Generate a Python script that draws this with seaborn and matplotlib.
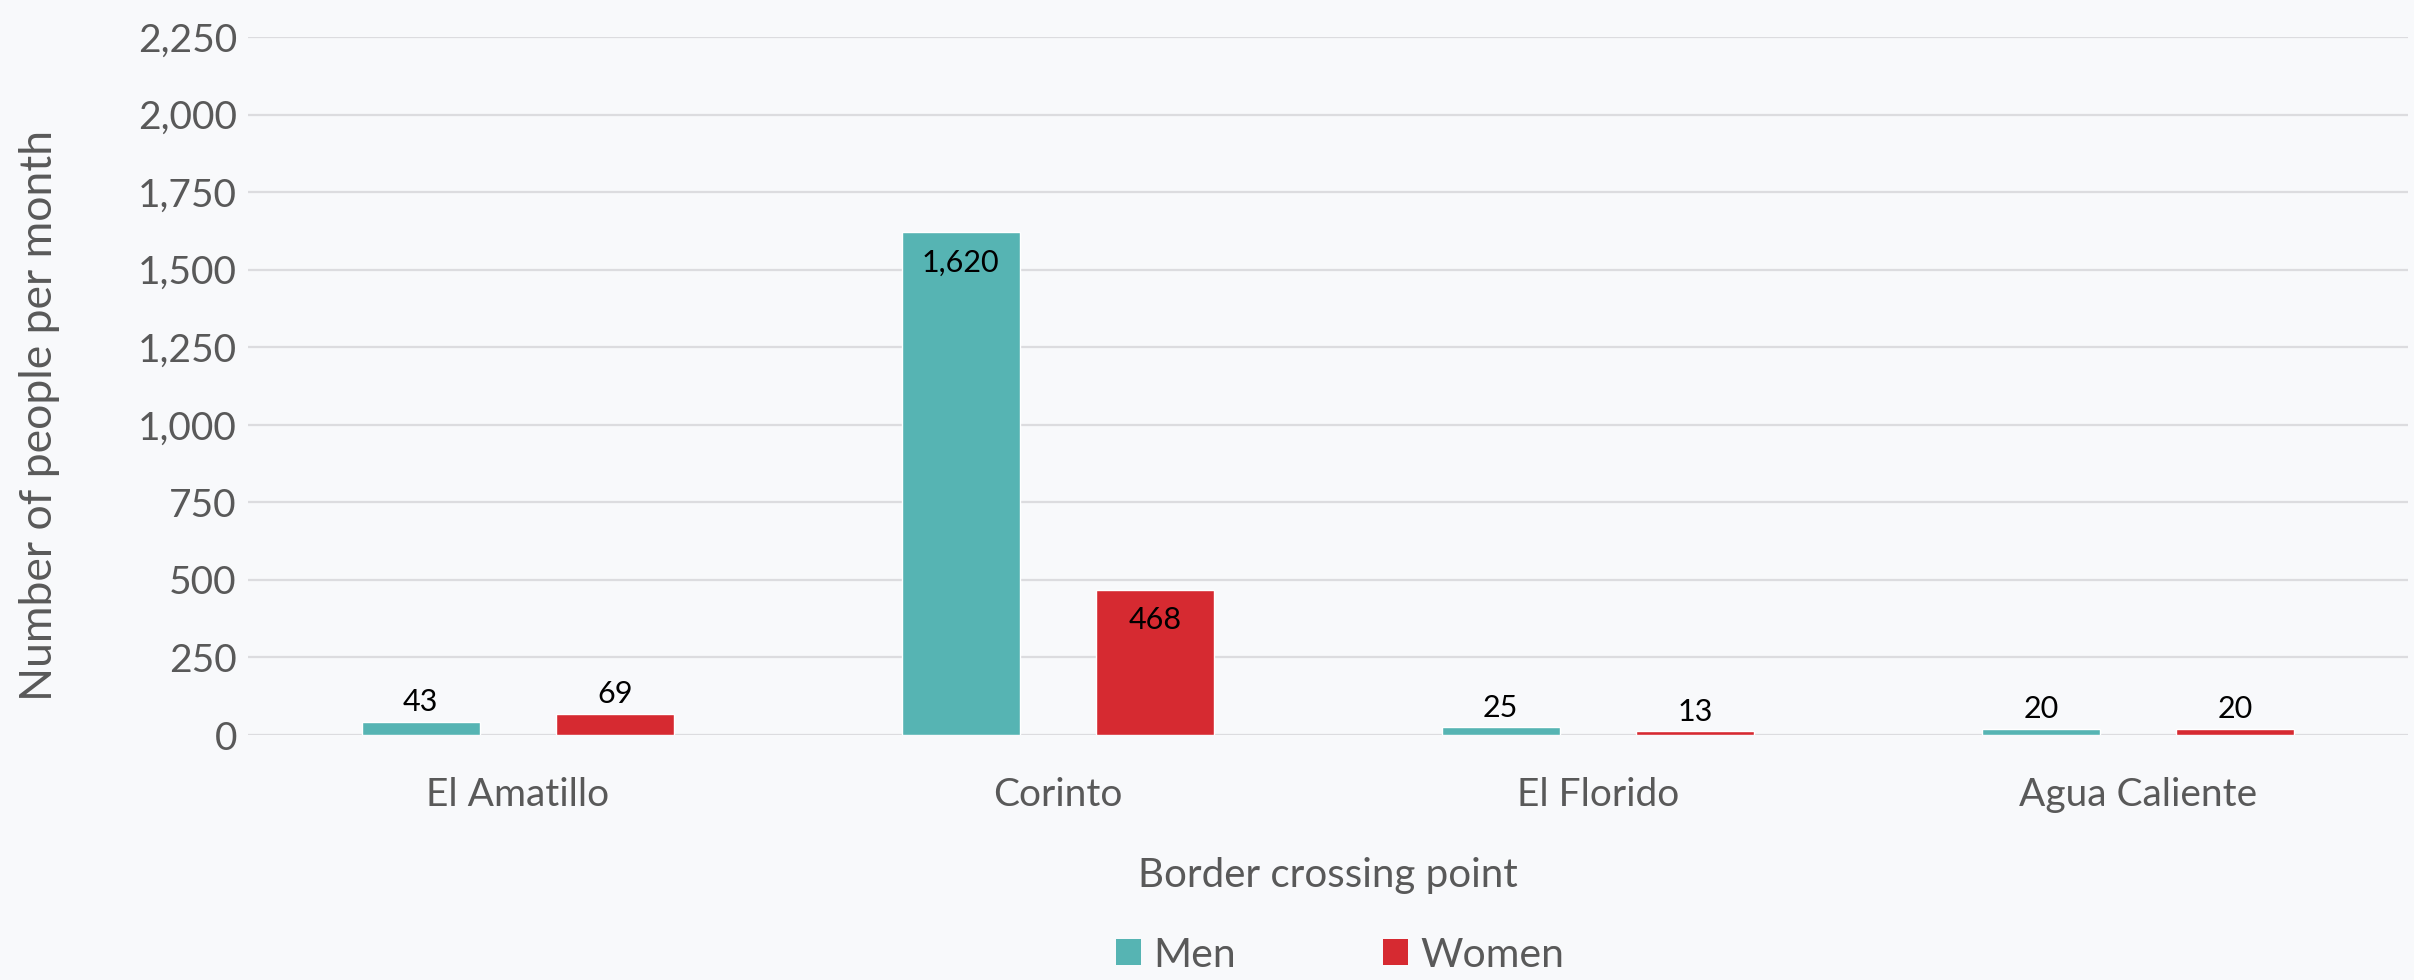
import matplotlib
matplotlib.use("Agg")
import matplotlib.pyplot as plt
from matplotlib.patches import Patch
import seaborn as sns
import pandas as pd

# Monthly crossings by border point
crossings = ["El Amatillo", "Corinto", "El Florido", "Agua Caliente"]
men = [43, 1620, 25, 20]
women = [69, 468, 13, 20]
groups = ["Men", "Women"]
colors = ["#56b4b3", "#d62a31"]
y_ticks = [0, 250, 500, 750, 1000, 1250, 1500, 1750, 2000, 2250]

df = pd.DataFrame({
    "crossing": crossings * 2,
    "group": ["Men"] * len(men) + ["Women"] * len(women),
    "people": men + women,
})

sns.set_theme(style="white")
plt.rcParams["font.family"] = ["Lato", "DejaVu Sans"]

bg = "#f8f9fb"
tick_color = "#595959"

fig = plt.figure(figsize=(24.14, 9.8), dpi=100, facecolor=bg)
ax = fig.add_axes([248 / 2414, 0.25, (2408 - 248) / 2414, 0.7122])
ax.set_facecolor(bg)

sns.barplot(data=df, x="crossing", y="people", hue="group", order=crossings,
            hue_order=groups, palette=colors, width=0.72, gap=0.39,
            saturation=1, errorbar=None, legend=False, ax=ax, zorder=3)

ax.set_ylim(0, 2250)
ax.set_yticks(y_ticks)
ax.set_yticklabels([f"{v:,}" for v in y_ticks])
ax.set_xlim(-0.5, len(crossings) - 0.5)
ax.yaxis.grid(True, color="#dcdcdf", linewidth=1.6, zorder=0)
ax.set_axisbelow(True)
for s in ax.spines.values():
    s.set_visible(False)
ax.tick_params(axis="both", length=0, labelsize=28, labelcolor=tick_color)
ax.tick_params(axis="y", pad=8)
ax.tick_params(axis="x", pad=30)

ax.set_ylabel("Number of people per month", fontsize=32, color=tick_color)
ax.yaxis.set_label_coords(-0.087, 0.458)
ax.set_xlabel("Border crossing point", fontsize=29, color=tick_color, labelpad=32)

# Value labels: inside the top of tall bars, above short ones
for container in ax.containers:
    for bar in container:
        h = bar.get_height()
        x = bar.get_x() + bar.get_width() / 2
        if h > 300:
            ax.annotate(f"{h:,.0f}", (x, h), xytext=(0, -22), textcoords="offset points",
                        ha="center", va="center", fontsize=22, color="black", zorder=4)
        else:
            ax.annotate(f"{h:,.0f}", (x, h), xytext=(0, 14), textcoords="offset points",
                        ha="center", va="center", fontsize=22, color="black", zorder=4)

handles = [Patch(facecolor=c, edgecolor="none", label=g) for g, c in zip(groups, colors)]
fig.legend(handles=handles, loc="center", bbox_to_anchor=(1340 / 2414, 1 - 955 / 980), ncol=2,
           frameon=False, fontsize=29.5, labelcolor=tick_color, handlelength=0.6,
           handleheight=0.6, handletextpad=0.3, columnspacing=3.6)

fig.savefig("out.png", dpi=100, facecolor=bg)
